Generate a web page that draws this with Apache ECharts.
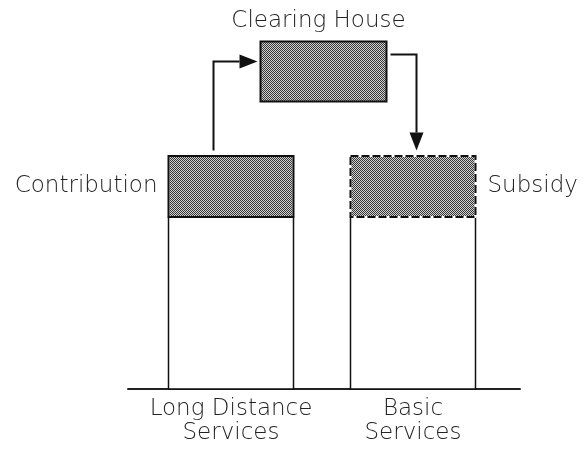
<!DOCTYPE html>
<html>
<head>
<meta charset="utf-8">
<script src="https://cdn.jsdelivr.net/npm/echarts@6/dist/echarts.min.js"></script>
<style>
  html, body { margin: 0; padding: 0; background: #fff; }
  #main { width: 585px; height: 449px; }
</style>
</head>
<body>
<div id="main"></div>
<script>
// bars: white base + shaded top part
const categories = ['Long Distance\nServices', 'Basic\nServices'];
const barLeft = [10.2, 56.6];
const barRight = [42.1, 88.5];
const baseValues = [74, 74];
const topValues = [26, 26];
const topLabels = ['Contribution', 'Subsidy'];

// clearing house box [x0, x1, y0, y1]
const boxLabel = 'Clearing House';
const clearingBox = [33.7, 65.8, 123.6, 149.4];

// arrow paths (last point is the tip)
const arrowOut = [[21.7, 102.6], [21.7, 140.8], [32.9, 140.8]];
const arrowIn = [[66.8, 143.8], [73.5, 143.8], [73.5, 102.6]];
const arrows = [arrowOut, arrowIn];

const FONT = 'DejaVu Sans';
const TEXT_STYLE = { fontFamily: FONT, fontSize: 23, fontWeight: 200, fill: '#222' };

// 1px checkerboard fill like the old dithered shading
const pat = document.createElement('canvas');
pat.width = 2; pat.height = 2;
const pctx = pat.getContext('2d');
pctx.fillStyle = '#d0d0d0';
pctx.fillRect(0, 0, 2, 2);
pctx.fillStyle = '#383838';
pctx.fillRect(0, 0, 1, 1);
pctx.fillRect(1, 1, 1, 1);
const shade = { image: pat, repeat: 'repeat' };

const chart = echarts.init(document.getElementById('main'), null, { renderer: 'canvas' });

function txt(extra) {
  return Object.assign({}, TEXT_STYLE, extra);
}

function renderBar(params, api) {
  const i = api.value(4);
  const p0 = api.coord([api.value(0), 0]);
  const p1 = api.coord([api.value(1), api.value(2)]);
  const p2 = api.coord([api.value(1), api.value(2) + api.value(3)]);
  const x = Math.round(p0[0]) + 0.5;
  const w = Math.round(p1[0] - p0[0]);
  const yMid = Math.round(p1[1]);
  const yTop = Math.round(p2[1]);
  const yBase = Math.round(p0[1]);
  const children = [
    {
      type: 'rect',
      shape: { x: x, y: yMid, width: w, height: yBase - yMid },
      style: { fill: '#fff', stroke: '#111', lineWidth: 1.5 }
    },
    {
      type: 'rect',
      shape: { x: x, y: yTop, width: w, height: yMid - yTop },
      style: { fill: shade, stroke: '#fff', lineWidth: 2 }
    },
    {
      type: 'rect',
      shape: { x: x, y: yTop, width: w, height: yMid - yTop },
      style: i === 0
        ? { fill: 'none', stroke: '#111', lineWidth: 2 }
        : { fill: 'none', stroke: '#111', lineWidth: 2, lineDash: [8, 3] }
    },
    {
      type: 'text',
      style: txt({
        text: categories[i], x: x + w / 2, y: yBase + 8,
        align: 'center', verticalAlign: 'top', lineHeight: 24
      })
    },
    {
      type: 'text',
      style: txt({
        text: topLabels[i],
        x: i === 0 ? x - 11 : x + w + 12,
        y: (yTop + yMid) / 2,
        align: i === 0 ? 'right' : 'left', verticalAlign: 'middle'
      })
    }
  ];
  return { type: 'group', children: children };
}

function renderBox(params, api) {
  const a = api.coord([api.value(0), api.value(2)]);
  const b = api.coord([api.value(1), api.value(3)]);
  const x = Math.round(a[0]) + 0.5, y = Math.round(b[1]) + 0.5;
  const w = Math.round(b[0] - a[0]), h = Math.round(a[1] - b[1]);
  return {
    type: 'group',
    children: [
      { type: 'rect', shape: { x: x, y: y, width: w, height: h },
        style: { fill: shade, stroke: '#111', lineWidth: 2 } },
      { type: 'text', style: txt({
        text: boxLabel, x: x + w / 2 - 5, y: y - 20,
        align: 'center', verticalAlign: 'middle' }) }
    ]
  };
}

function renderArrow(params, api) {
  const pts = arrows[api.value(0)].map(function (p) {
    const c = api.coord(p);
    return [Math.round(c[0]) + 0.5, Math.round(c[1]) + 0.5];
  });
  const n = pts.length;
  const tip = pts[n - 1], prev = pts[n - 2];
  const dx = tip[0] - prev[0], dy = tip[1] - prev[1];
  const len = Math.sqrt(dx * dx + dy * dy);
  const ux = dx / len, uy = dy / len;
  const hl = 18, hw = 7;
  const base = [tip[0] - ux * hl, tip[1] - uy * hl];
  const line = pts.slice(0, n - 1).concat([base]);
  return {
    type: 'group',
    children: [
      { type: 'polyline', shape: { points: line },
        style: { fill: 'none', stroke: '#111', lineWidth: 2 } },
      { type: 'polygon', shape: { points: [
          tip,
          [base[0] - uy * hw, base[1] + ux * hw],
          [base[0] + uy * hw, base[1] - ux * hw]
        ] },
        style: { fill: '#111' } }
    ]
  };
}

chart.setOption({
  animation: false,
  backgroundColor: '#fff',
  grid: { left: 128, right: 65, top: 39.5, bottom: 60 },
  xAxis: {
    type: 'value', min: 0, max: 100,
    axisLine: { show: true, onZero: false, lineStyle: { color: '#222', width: 2 } },
    axisTick: { show: false }, axisLabel: { show: false }, splitLine: { show: false }
  },
  yAxis: {
    type: 'value', min: 0, max: 150, show: false, splitLine: { show: false }
  },
  series: [
    {
      type: 'custom', renderItem: renderBar, clip: false,
      data: categories.map(function (c, i) {
        return [barLeft[i], barRight[i], baseValues[i], topValues[i], i];
      })
    },
    {
      type: 'custom', renderItem: renderBox, clip: false,
      data: [clearingBox]
    },
    {
      type: 'custom', renderItem: renderArrow, clip: false,
      data: arrows.map(function (a, i) { return [i]; })
    }
  ]
});
</script>
</body>
</html>
